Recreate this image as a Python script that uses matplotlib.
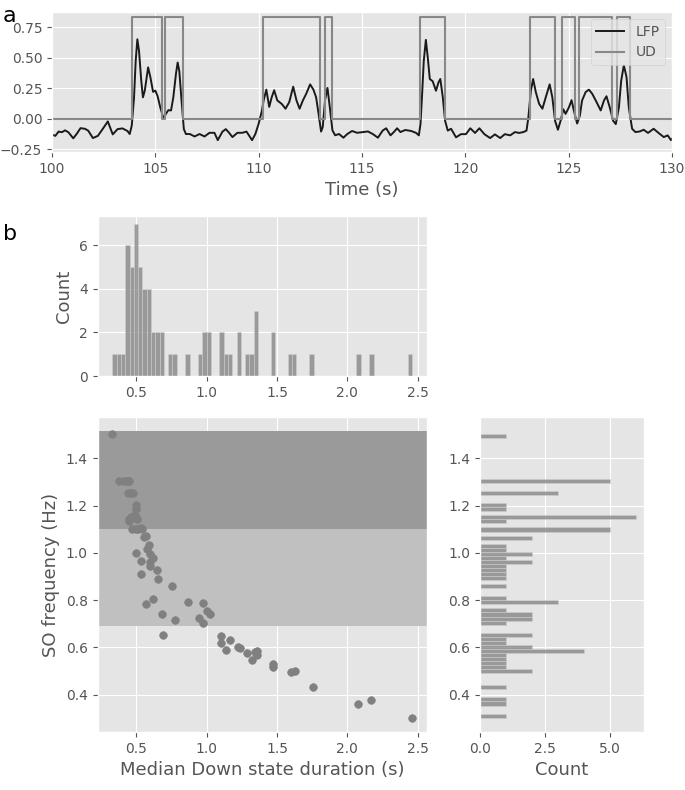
import matplotlib.pyplot as plt

# LFP trace (time in s, value)
lfp_t = [100.0, 100.16, 100.32, 100.48, 100.63, 100.79, 101.03, 101.19, 101.38, 101.59,
         101.75, 101.98, 102.22, 102.46, 102.7, 102.94, 103.17, 103.41, 103.65, 103.76,
         103.86, 103.97, 104.05, 104.13, 104.21, 104.32, 104.4, 104.49, 104.65, 104.76,
         104.89, 105.0, 105.11, 105.24, 105.4, 105.51, 105.63, 105.76, 105.87, 106.0,
         106.08, 106.16, 106.27, 106.38, 106.48, 106.67, 106.9, 107.14, 107.38, 107.62,
         107.86, 108.02, 108.25, 108.41, 108.57, 108.73, 108.97, 109.21, 109.41, 109.68,
         109.84, 110.0, 110.16, 110.24, 110.37, 110.51, 110.63, 110.75, 110.9, 111.11,
         111.3, 111.48, 111.67, 111.83, 111.98, 112.14, 112.3, 112.49, 112.65, 112.78,
         112.9, 113.02, 113.1, 113.21, 113.33, 113.44, 113.57, 113.7, 113.89, 114.1,
         114.29, 114.52, 114.76, 115.0, 115.29, 115.53, 115.77, 116.0, 116.17, 116.38,
         116.54, 116.7, 116.86, 117.09, 117.38, 117.62, 117.75, 117.83, 117.91, 117.99,
         118.09, 118.18, 118.28, 118.42, 118.58, 118.7, 118.79, 118.91, 119.02, 119.15,
         119.31, 119.55, 119.79, 120.03, 120.24, 120.47, 120.68, 120.92, 121.2, 121.43,
         121.69, 121.91, 122.17, 122.4, 122.6, 122.81, 122.96, 123.05, 123.17, 123.28,
         123.41, 123.57, 123.73, 123.89, 124.08, 124.21, 124.34, 124.48, 124.61, 124.74,
         124.85, 125.01, 125.14, 125.25, 125.41, 125.54, 125.65, 125.82, 125.98, 126.14,
         126.35, 126.55, 126.71, 126.83, 126.99, 127.15, 127.28, 127.43, 127.54, 127.67,
         127.8, 127.91, 128.07, 128.23, 128.44, 128.63, 128.84, 129.11, 129.35, 129.6,
         129.79, 129.95, 130.0]
lfp_v = [-0.13, -0.14, -0.105, -0.11, -0.095, -0.11, -0.16, -0.125, -0.077, -0.082,
         -0.097, -0.158, -0.14, -0.082, -0.022, -0.128, -0.085, -0.079, -0.1, -0.125,
         -0.055, 0.175, 0.475, 0.65, 0.555, 0.31, 0.175, 0.23, 0.42, 0.34,
         0.22, 0.23, 0.185, 0.092, 0.0, 0.04, 0.07, 0.068, 0.175, 0.37,
         0.46, 0.39, 0.145, -0.085, -0.125, -0.125, -0.145, -0.125, -0.145, -0.115,
         -0.115, -0.175, -0.105, -0.085, -0.115, -0.15, -0.115, -0.115, -0.105, -0.175,
         -0.125, -0.04, 0.068, 0.15, 0.238, 0.097, 0.175, 0.233, 0.15, 0.122,
         0.082, 0.136, 0.262, 0.15, 0.082, 0.15, 0.204, 0.281, 0.238, 0.175,
         0.04, -0.105, -0.068, 0.15, 0.252, 0.097, -0.095, -0.135, -0.125, -0.155,
         -0.125, -0.1, -0.115, -0.11, -0.104, -0.126, -0.155, -0.097, -0.078, -0.136,
         -0.109, -0.078, -0.109, -0.092, -0.1, -0.116, -0.136, -0.044, 0.204, 0.475,
         0.645, 0.505, 0.325, 0.307, 0.229, 0.297, 0.325, 0.175, -0.016, -0.097,
         -0.082, -0.152, -0.126, -0.126, -0.078, -0.116, -0.078, -0.126, -0.158, -0.128,
         -0.158, -0.126, -0.136, -0.109, -0.116, -0.109, -0.097, 0.01, 0.229, 0.325,
         0.218, 0.122, 0.082, 0.175, 0.281, 0.175, -0.016, -0.09, -0.016, 0.078,
         0.04, 0.092, 0.152, 0.068, -0.039, 0.024, 0.15, 0.218, 0.238, 0.204,
         0.136, 0.068, 0.15, 0.184, 0.092, -0.016, -0.044, 0.092, 0.31, 0.437,
         0.34, 0.092, -0.082, -0.109, -0.104, -0.09, -0.116, -0.082, -0.116, -0.15,
         -0.136, -0.175, -0.165]

# Up/Down state trace (step changes)
ud_t = [100.0, 103.89, 105.32, 105.48, 106.32, 110.2, 112.97, 113.19, 113.57, 117.83,
        119.02, 123.12, 124.36, 124.69, 125.3, 125.51, 127.12, 127.35, 127.99, 130.0]
ud_v = [0, 0.832, 0, 0.832, 0, 0.832, 0, 0.832, 0, 0.832,
        0, 0.832, 0, 0.832, 0, 0.832, 0, 0.832, 0, 0]

# per recording: median Down state duration (s) and SO frequency (Hz)
down_dur = [0.33, 0.375, 0.41, 0.43, 0.44, 0.448, 0.44, 0.46, 0.475, 0.50,
            0.50, 0.45, 0.462, 0.475, 0.49, 0.50, 0.505, 0.445, 0.47, 0.495,
            0.515, 0.53, 0.54, 0.555, 0.565, 0.59, 0.572, 0.50, 0.60, 0.62,
            0.53, 0.595, 0.595, 0.65, 0.535, 0.655, 0.75, 0.615, 0.57, 0.865,
            0.977, 1.005, 0.68, 1.02, 0.945, 0.775, 0.975, 0.69, 1.10, 1.167,
            1.10, 1.22, 1.235, 1.14, 1.29, 1.345, 1.36, 1.355, 1.325, 1.47,
            1.47, 1.60, 1.625, 1.755, 2.075, 2.17, 2.46]
so_freq = [1.502, 1.305, 1.305, 1.305, 1.305, 1.305, 1.252, 1.252, 1.252, 1.202,
           1.185, 1.145, 1.15, 1.155, 1.158, 1.15, 1.145, 1.135, 1.10, 1.103,
           1.10, 1.105, 1.10, 1.068, 1.072, 1.032, 1.015, 0.998, 0.995, 0.98,
           0.965, 0.962, 0.944, 0.926, 0.91, 0.888, 0.858, 0.803, 0.785, 0.792,
           0.786, 0.755, 0.741, 0.741, 0.723, 0.716, 0.702, 0.652, 0.648, 0.632,
           0.62, 0.603, 0.596, 0.587, 0.578, 0.58, 0.585, 0.566, 0.548, 0.53,
           0.515, 0.495, 0.50, 0.431, 0.362, 0.378, 0.302]

# frequency bands shaded in the scatter
band_slow = (0.69, 1.1)
band_fast = (1.1, 1.515)

plt.style.use("ggplot")
plt.rcParams["font.family"] = ["DejaVu Sans"]
plt.rcParams["xtick.labelsize"] = 10
plt.rcParams["ytick.labelsize"] = 10
plt.rcParams["axes.labelsize"] = 13

fig = plt.figure(figsize=(6.85, 7.9), dpi=100)
W, H = 685.0, 790.0


def box(x0, y0, x1, y1):
    return [x0 / W, 1 - y1 / H, (x1 - x0) / W, (y1 - y0) / H]


ax_lfp = fig.add_axes(box(52, 12, 672, 152))
ax_hist = fig.add_axes(box(97.5, 216, 427, 376))
ax_sc = fig.add_axes(box(97.5, 417, 427, 732), sharex=ax_hist)
ax_rh = fig.add_axes(box(480, 417, 643.5, 732), sharey=ax_sc)

# panel a
ax_lfp.plot(lfp_t, lfp_v, color="#1a1a1a", lw=1.4, label="LFP",
            solid_joinstyle="round")
ax_lfp.step(ud_t, ud_v, where="post", color="#888888", lw=1.5, label="UD")
ax_lfp.set_xlim(100, 130)
ax_lfp.set_ylim(-0.272, 0.873)
ax_lfp.set_yticks([-0.25, 0.0, 0.25, 0.5, 0.75])
ax_lfp.set_xlabel("Time (s)")
ax_lfp.legend(loc="upper right", fontsize=10, labelcolor="#555555")

# panel b: duration histogram
hist_style = dict(bins=70, color="gray", alpha=0.75, edgecolor="#cfcfcf", linewidth=0.5)
ax_hist.hist(down_dur, **hist_style)
ax_hist.set_ylabel("Count")
ax_hist.set_yticks([0, 2, 4, 6])
ax_hist.tick_params(labelbottom=True)

# scatter with frequency bands
ax_sc.axhspan(*band_slow, color="#c0c0c0", lw=0)
ax_sc.axhspan(*band_fast, color="#9a9a9a", lw=0)
ax_sc.scatter(down_dur, so_freq, color="#808080", s=30, zorder=3)
ax_sc.set_xlabel("Median Down state duration (s)")
ax_sc.set_ylabel("SO frequency (Hz)")
ax_sc.set_xticks([0.5, 1.0, 1.5, 2.0, 2.5])
ax_sc.set_yticks([0.4, 0.6, 0.8, 1.0, 1.2, 1.4])

# frequency histogram
ax_rh.hist(so_freq, orientation="horizontal", **hist_style)
ax_rh.set_xlabel("Count")
ax_rh.set_xticks([0.0, 2.5, 5.0])
ax_rh.tick_params(labelleft=True)

fig.text(0.004, 0.993, "a", fontsize=16, va="top")
fig.text(0.004, 1 - 224 / H, "b", fontsize=16, va="top")

fig.savefig("out.png", dpi=100)
